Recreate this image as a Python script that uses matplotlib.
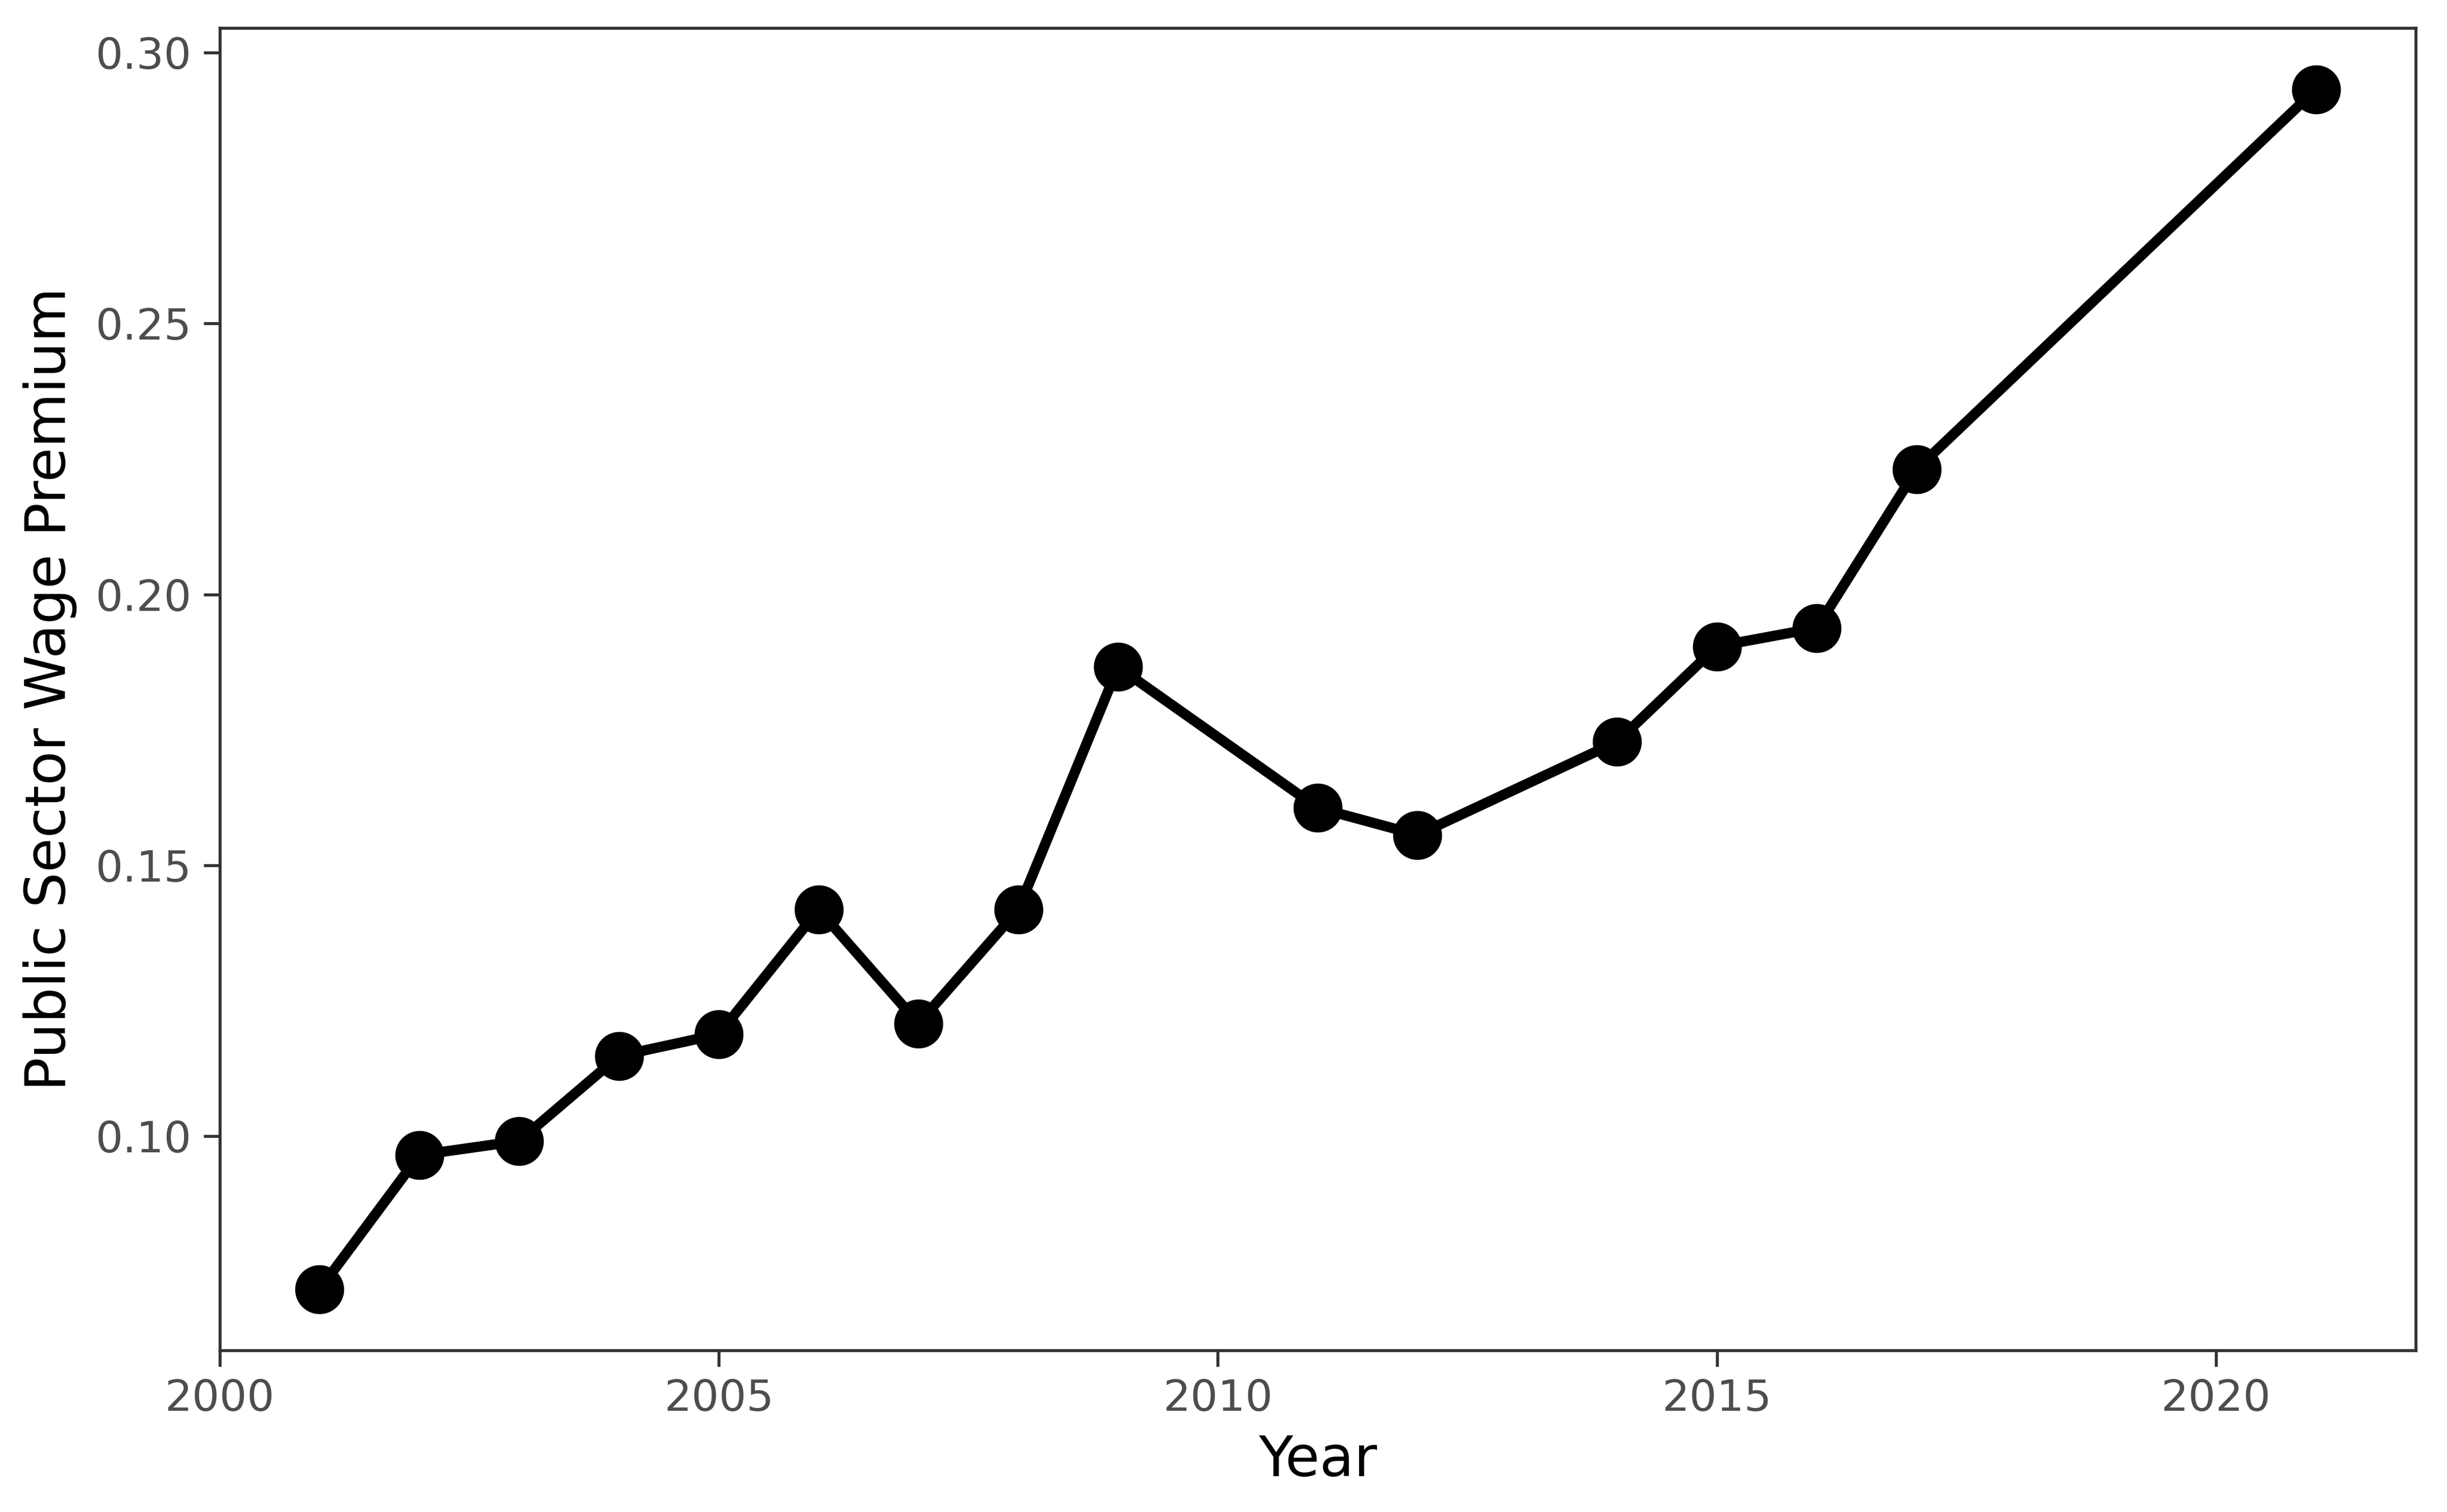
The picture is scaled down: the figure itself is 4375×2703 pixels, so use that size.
import matplotlib
matplotlib.use("Agg")
import matplotlib.pyplot as plt
from matplotlib.ticker import FormatStrFormatter

years = [2001, 2002, 2003, 2004, 2005, 2006, 2007, 2008, 2009, 2011, 2012, 2014, 2015, 2016, 2017, 2021]
premium = [0.0717, 0.0965, 0.0991, 0.1148, 0.1188, 0.1418, 0.1208, 0.1418, 0.1866,
           0.1606, 0.1556, 0.1728, 0.1904, 0.1938, 0.2231, 0.2932]
x_ticks = [2000, 2005, 2010, 2015, 2020]
y_ticks = [0.10, 0.15, 0.20, 0.25, 0.30]

plt.rcParams['font.family'] = ['DejaVu Sans']
fig = plt.figure(figsize=(4375/300, 2703/300), dpi=300)
ax = fig.add_axes([0.0898, 0.1069, 0.9872-0.0898, 0.9815-0.1069])

ax.plot(years, premium, color='black', lw=4.4, solid_capstyle='butt', zorder=2)
ax.plot(years, premium, 'o', color='black', markersize=20, zorder=3)

ax.set_xlim(2000, 2022)
ax.set_ylim(0.06045, 0.30455)
ax.set_xticks(x_ticks)
ax.set_yticks(y_ticks)
ax.yaxis.set_major_formatter(FormatStrFormatter('%.2f'))

for s in ax.spines.values():
    s.set_color('#333333')
    s.set_linewidth(1.3)
ax.tick_params(axis='both', colors='#333333', labelcolor='#4D4D4D', length=7, width=1.3,
               labelsize=18.5, pad=5)
ax.set_xlabel('Year', fontsize=24, color='black', labelpad=6)
ax.set_ylabel('Public Sector Wage Premium', fontsize=24, color='black', labelpad=8)

fig.savefig('out.png', dpi=300, facecolor='white')
